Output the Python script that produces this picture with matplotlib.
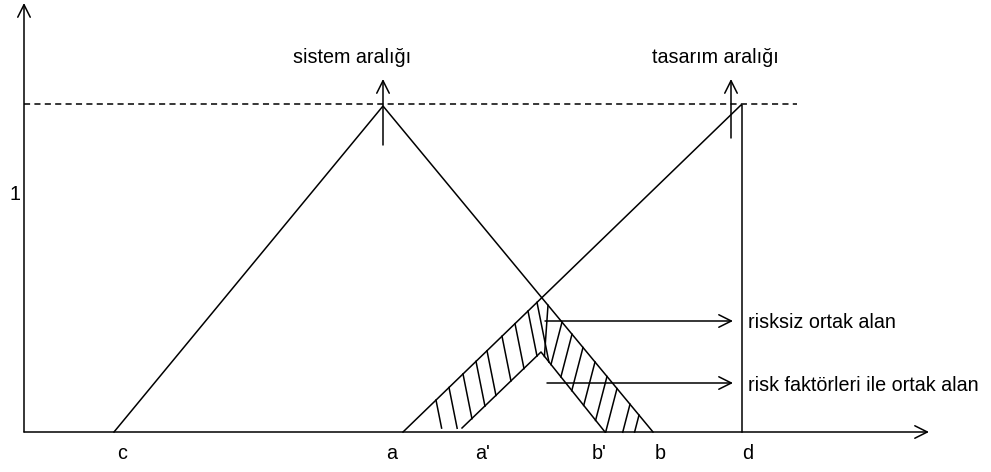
import numpy as np
import matplotlib
matplotlib.use('Agg')
import matplotlib.pyplot as plt
from matplotlib import font_manager
from matplotlib.patches import FancyArrowPatch

# the diagram is drawn in pixel units of the 991x472 canvas (y grows downward)
axis_x = 24
axis_y = 432
axis_top = 3
axis_end = 929

# "sistem aralığı" triangle: c -> peak -> b
sistem_x = [114, 383, 653]
sistem_y = [432, 106, 432]
# "tasarım aralığı": a -> peak, then straight down at d
tasarim_x = [403, 741, 742, 742]
tasarim_y = [432, 105, 105, 432]
# inner edge of the hatched common area (a' -> top -> b')
inner_x = [462, 541, 605]
inner_y = [428, 352, 432]

# dashed level line
level_y = 104
level_x = [24, 797]

tick_labels = ['c', 'a', "a'", "b'", 'b', 'd']
tick_x = [122, 392, 483, 599, 660, 748]

# where the hatch strokes start on the band's upper edge
left_hatch_x = [436, 449, 463, 476, 487, 502, 515, 528, 537]
right_hatch_x = [562, 572, 583, 595, 607, 617, 630, 639]

# pick a narrow font if there is one
names = {f.name for f in font_manager.fontManager.ttflist}
if 'Liberation Sans Narrow' in names:
    FONT, FS = 'Liberation Sans Narrow', 17
else:
    FONT, FS = 'Liberation Sans', 14.2

fig = plt.figure(figsize=(9.91, 4.72), dpi=100)
ax = fig.add_axes([0, 0, 1, 1])
ax.set_xlim(0, 991)
ax.set_ylim(472, 0)
ax.axis('off')

LW = 1.1
arrow_style = '->,head_length=0.6,head_width=0.3'


def arrow(p0, p1):
    ax.add_patch(FancyArrowPatch(p0, p1, arrowstyle=arrow_style, mutation_scale=15,
                                 shrinkA=0, shrinkB=0, lw=LW, color='black'))


# axes
arrow((axis_x, axis_y), (axis_x, axis_top))
arrow((axis_x, axis_y), (axis_end, axis_y))

# dashed level
ax.plot(level_x, [level_y, level_y], color='black', lw=LW, dashes=(4, 2.8))

# the two shapes
ax.plot(sistem_x, sistem_y, color='black', lw=LW)
ax.plot(tasarim_x, tasarim_y, color='black', lw=LW)
ax.plot(inner_x, inner_y, color='black', lw=LW)


# band edges for the hatching
def roof(x):
    a_leg = np.interp(x, tasarim_x[:2], tasarim_y[:2])
    b_leg = np.interp(x, sistem_x[1:], sistem_y[1:])
    return np.maximum(a_leg, b_leg)


def floor(x):
    return np.interp(x, inner_x, inner_y)


def hatch(x0, slant):
    t = np.arange(0, 150, 0.25)
    xs = x0 + slant * t
    ys = roof(x0) + t
    hit = np.argmax(ys >= floor(xs))
    ax.plot([x0, xs[hit]], [ys[0], ys[hit]], color='black', lw=LW)


for x0 in left_hatch_x:
    hatch(x0, 0.2)
for x0 in right_hatch_x:
    hatch(x0, -0.26)
hatch(548, -0.07)

# pointers
arrow((383, 145), (383, 79))
arrow((731, 138), (731, 79))
arrow((545, 321), (733, 321))
arrow((547, 383), (733, 383))

txt = dict(family=FONT, fontsize=FS, color='black')
ax.text(352, 63, 'sistem aralığı', ha='center', va='baseline', **txt)
ax.text(715, 63, 'tasarım aralığı', ha='center', va='baseline', **txt)
ax.text(748, 328, 'risksiz ortak alan', ha='left', va='baseline', **txt)
ax.text(748, 391, 'risk faktörleri ile ortak alan', ha='left', va='baseline', **txt)
ax.text(15, 200, '1', ha='center', va='baseline', **txt)
for lab, x in zip(tick_labels, tick_x):
    ax.text(x, 459, lab, ha='center', va='baseline', **txt)

fig.savefig('out.png', dpi=100, facecolor='white')
